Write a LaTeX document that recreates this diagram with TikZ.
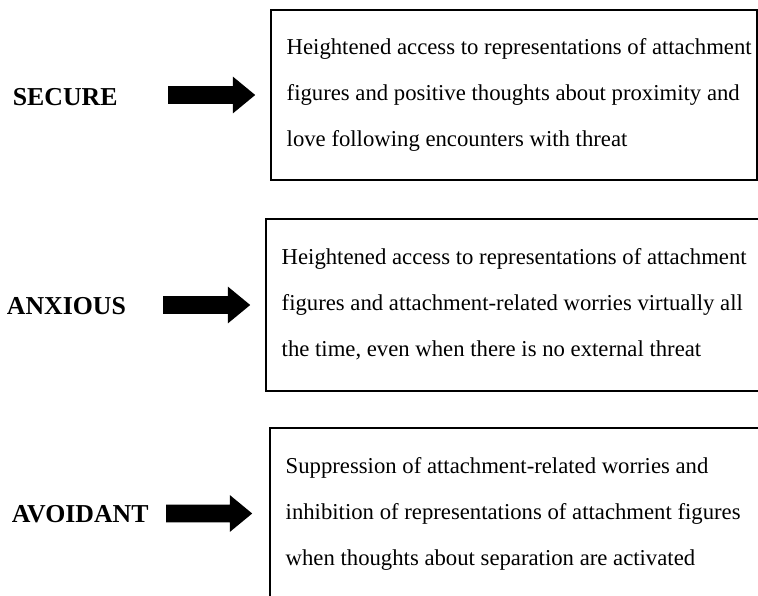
\documentclass[tikz,border=0pt]{standalone}
\usepackage{fontspec}
\setmainfont{Liberation Serif}
\usetikzlibrary{shapes.arrows}
\tikzset{
  frame/.style={draw=black, line width=1.3pt, fill=none},
  label/.style={anchor=base west, inner sep=0pt, font=\fontsize{25.8}{30}\selectfont\bfseries},
  body/.style={anchor=base west, inner sep=0pt, font=\fontsize{22.72}{46}\selectfont},
  blockarrow/.style={single arrow, fill=black, draw=none, inner sep=0pt,
    text height=8.6pt, text depth=8.6pt, text width=0pt,
    single arrow head extend=9.6pt, single arrow tip angle=79,
    single arrow head indent=0pt, anchor=tail}
}
\newcommand{\bodylines}[3]{\begin{tabular}[t]{@{}l@{}}#1\\#2\\#3\end{tabular}}
\begin{document}
\begin{tikzpicture}[x=1pt,y=-1pt]
\useasboundingbox (0,0) rectangle (758,595);
\clip (0,0) rectangle (758,595);
% boxes
\draw[frame] (271,10) rectangle (757,180);
\draw[frame] (266,219) rectangle (775,391);
\draw[frame] (270,428) rectangle (775,620);
% labels
\node[label] (sec) at (12.7,105) {SECURE};
\node[label] (anx) at (6.7,314) {ANXIOUS};
\node[label] (avo) at (11.7,522) {AVOIDANT};
% arrows
\node[blockarrow, minimum height=87pt] (a1) at (168,95) {};
\node[blockarrow, minimum height=87pt] (a2) at (163,305) {};
\node[blockarrow, minimum height=86pt] (a3) at (166,513.5) {};
% texts
\node[body] (t1) at (286.5,54) {\bodylines{Heightened access to representations of attachment}{figures and positive thoughts about proximity and}{love following encounters with threat}};
\node[body] (t2) at (281.5,264) {\bodylines{Heightened access to representations of attachment}{figures and attachment-related worries virtually all}{the time, even when there is no external threat}};
\node[body] (t3) at (285.5,473) {\bodylines{Suppression of attachment-related worries and}{inhibition of representations of attachment figures}{when thoughts about separation are activated}};
\end{tikzpicture}
\end{document}
